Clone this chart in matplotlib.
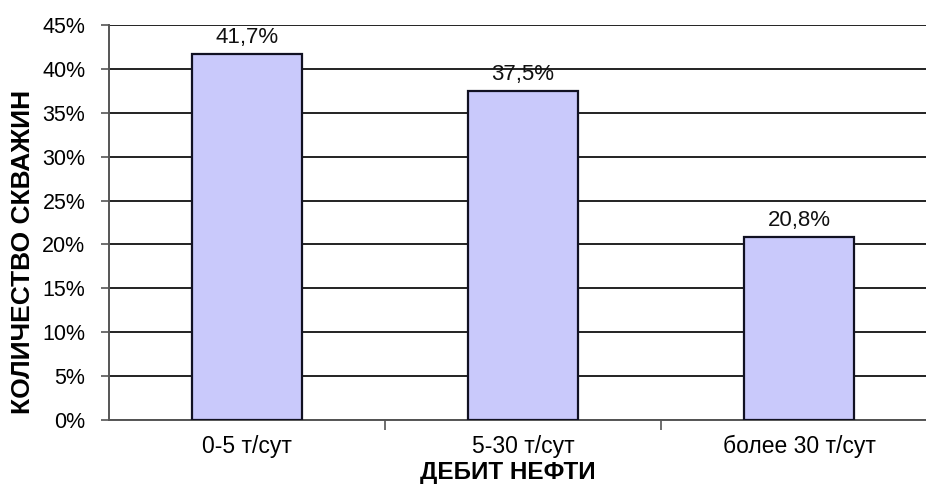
import matplotlib
matplotlib.use("Agg")
import matplotlib.pyplot as plt
from matplotlib.ticker import MultipleLocator, FuncFormatter

plt.rcParams['font.family'] = ['Liberation Sans', 'DejaVu Sans']

categories = ["0-5 т/сут", "5-30 т/сут", "более 30 т/сут"]
shares = [41.7, 37.5, 20.8]
value_labels = ["41,7%", "37,5%", "20,8%"]

fig = plt.figure(figsize=(9.26, 4.84), dpi=100)
# plot area runs slightly past the right edge of the canvas
ax = fig.add_axes([109 / 926, 1 - 420 / 484, 828 / 926, 395 / 484])

x = range(len(categories))
bars = ax.bar(x, shares, width=0.40, color="#C9C9FB", edgecolor="#111122",
              linewidth=1.6, zorder=3)

for b, lab in zip(bars, value_labels):
    ax.annotate(lab, (b.get_x() + b.get_width() / 2, b.get_height()),
                xytext=(0, 4.5), textcoords="offset points",
                ha="center", va="bottom", fontsize=16, color="#111111")

ax.set_xlim(-0.5, 2.5)
ax.set_ylim(0, 45)
ax.yaxis.set_major_locator(MultipleLocator(5))
ax.yaxis.set_major_formatter(FuncFormatter(lambda v, p: f"{v:.0f}%"))
ax.grid(axis="y", color="#111111", linewidth=1.3, zorder=0)

ax.set_xticks(list(x))
ax.set_xticklabels(categories, fontsize=16.5)
ax.tick_params(axis="x", length=0, pad=11)
ax.set_xticks([0.5, 1.5], minor=True)
ax.tick_params(axis="x", which="minor", length=7, width=1.2, color="#555555")
ax.tick_params(axis="y", labelsize=15.5, length=6, width=1.2, color="#555555", pad=11)

for s in ("top", "right"):
    ax.spines[s].set_visible(False)
for s in ("left", "bottom"):
    ax.spines[s].set_color("#555555")
    ax.spines[s].set_linewidth(1.4)

fig.text(23 / 926, 1 - 252 / 484, "КОЛИЧЕСТВО СКВАЖИН", rotation=90,
         ha="center", va="center", fontsize=19, fontweight="bold")
fig.text(508 / 926, 1 - 473 / 484, "ДЕБИТ НЕФТИ",
         ha="center", va="center", fontsize=17.5, fontweight="bold")

fig.savefig("out.png", dpi=100)
